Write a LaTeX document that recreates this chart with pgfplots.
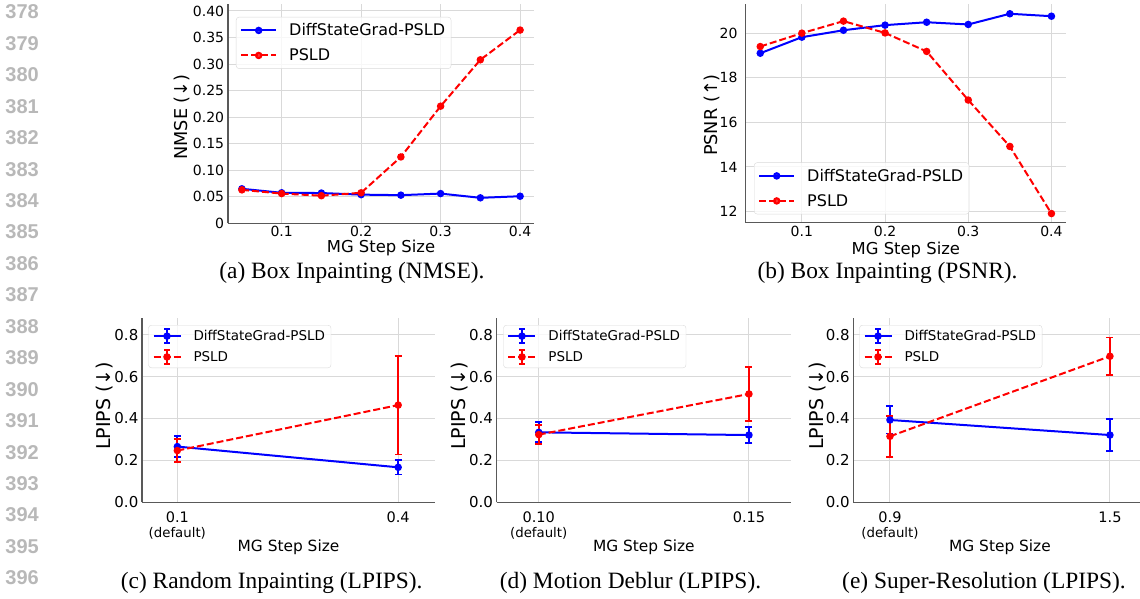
\documentclass[border=0pt]{standalone}
\usepackage{fontspec}
\setmainfont{DejaVu Sans}
\newfontfamily\capfont{Liberation Serif}
\newfontfamily\lnfont{Liberation Sans}
\usepackage{pgfplots}
\pgfplotsset{compat=1.18}
\usepackage{pgfplotstable}
\definecolor{lngray}{gray}{0.72}
\definecolor{spine}{gray}{0.35}
\definecolor{gridc}{gray}{0.85}

% Box inpainting data
\pgfplotstableread{
x y
0.05 0.065
0.10 0.0575
0.15 0.057
0.20 0.054
0.25 0.053
0.30 0.056
0.35 0.048
0.40 0.051
}\nmseours
\pgfplotstableread{
x y
0.05 0.063
0.10 0.056
0.15 0.052
0.20 0.0575
0.25 0.125
0.30 0.2206
0.35 0.308
0.40 0.364
}\nmsepsld
\pgfplotstableread{
x y
0.05 19.10
0.10 19.82
0.15 20.13
0.20 20.36
0.25 20.49
0.30 20.39
0.35 20.87
0.40 20.76
}\psnrours
\pgfplotstableread{
x y
0.05 19.40
0.10 20.00
0.15 20.54
0.20 20.01
0.25 19.18
0.30 17.00
0.35 14.92
0.40 11.91
}\psnrpsld
% LPIPS with error bars
\pgfplotstableread{
x y e
0.1 0.266 0.049
0.4 0.167 0.034
}\riours
\pgfplotstableread{
x y e
0.1 0.247 0.055
0.4 0.464 0.236
}\ripsld
\pgfplotstableread{
x y e
0.10 0.334 0.048
0.15 0.321 0.038
}\mdours
\pgfplotstableread{
x y e
0.10 0.323 0.046
0.15 0.517 0.129
}\mdpsld
\pgfplotstableread{
x y e
0.9 0.393 0.065
1.5 0.321 0.078
}\srours
\pgfplotstableread{
x y e
0.9 0.315 0.097
1.5 0.697 0.090
}\srpsld

\pgfplotsset{
  base/.style={
    scale only axis, anchor=south west,
    axis lines*=left, axis line style={spine, line width=1.3pt},
    grid=major, major grid style={gridc, line width=1pt},
    major tick length=0pt,
    /pgf/number format/assume math mode=true,
    legend cell align=left,
  },
  ours/.style={blue, line width=2pt, mark=*, mark size=2.7pt, mark options={solid}},
  psld/.style={red, line width=2pt, dash pattern=on 7pt off 3pt, mark=*, mark size=2.7pt, mark options={solid}},
  longleg/.style={legend image code/.code={%
      \draw[mark repeat=2,mark phase=2,##1] plot coordinates {(0pt,0pt) (17.5pt,0pt) (35pt,0pt)};}},
  ebleg/.style={legend image code/.code={%
      \draw[##1, mark=none] (0pt,0pt) -- (27pt,0pt);
      \draw[##1, solid, mark=none, line width=1.8pt] (13.5pt,-7pt) -- (13.5pt,7pt) (10.5pt,-7pt) -- (16.5pt,-7pt) (10.5pt,7pt) -- (16.5pt,7pt);
      \draw[##1, only marks] plot coordinates {(13.5pt,0pt)};}},
  toprow/.style={
    tick label style={font=\fontsize{14}{14}\selectfont},
    xlabel style={font=\fontsize{16.4}{17}\selectfont},
    ylabel style={font=\fontsize{17.7}{18}\selectfont},
    legend style={draw=black!15, rounded corners=3pt, fill=white, fill opacity=0.8, text opacity=1,
      font=\fontsize{16}{16}\selectfont, inner xsep=4pt, inner ysep=4.5pt, row sep=7.5pt,
      /tikz/every odd column/.append style={column sep=10pt}},
    xmin=0.0325, xmax=0.4175,
    xtick={0.1,0.2,0.3,0.4}, xticklabels={0.1,0.2,0.3,0.4},
    xticklabel style={inner sep=0pt, yshift=-3pt},
    xlabel={MG Step Size},
  },
  botrow/.style={
    width=293pt, height=184.4pt, ymin=0, ymax=0.88,
    ytick={0,0.2,0.4,0.6,0.8}, yticklabels={0.0,0.2,0.4,0.6,0.8},
    tick label style={font=\fontsize{15}{15}\selectfont},
    yticklabel style={inner sep=0pt, xshift=-3.5pt},
    xticklabel style={inner sep=0pt, yshift=-9pt, align=center, font=\fontsize{14.5}{15}\selectfont},
    xlabel style={font=\fontsize{15.4}{16}\selectfont, at={(axis description cs:0.5,-0.244)}, anchor=center},
    ylabel style={font=\fontsize{19}{19}\selectfont},
    xlabel={MG Step Size}, ylabel={LPIPS (↓)},
    legend style={draw=black!15, rounded corners=3pt, fill=white, fill opacity=0.8, text opacity=1,
      font=\fontsize{13.5}{13.5}\selectfont, inner xsep=4pt, inner ysep=3pt, row sep=5pt,
      /tikz/every odd column/.append style={column sep=10pt}},
  },
  eb/.style={error bars/.cd, y dir=both, y explicit,
    error bar style={line width=1.8pt, solid},
    error mark options={rotate=90, line width=1.8pt, mark size=3.5pt, solid}},
}

\begin{document}
\begin{tikzpicture}
\useasboundingbox (0pt,0pt) rectangle (1140pt,-598pt);

% line numbers
\foreach \i in {0,...,18}{
  \pgfmathtruncatemacro\n{378+\i}
  \node[anchor=east, text=lngray, inner sep=0pt, font=\lnfont\bfseries\fontsize{20}{20}\selectfont] at (39pt,{-12pt-31.44pt*\i}) {\n};
}

% (a)
\begin{axis}[base, toprow, longleg, at={(228pt,-223.3pt)}, width=306pt, height=219pt,
  ymin=0, ymax=0.4125,
  ytick={0,0.05,0.10,0.15,0.20,0.25,0.30,0.35,0.40},
  yticklabels={0,0.05,0.10,0.15,0.20,0.25,0.30,0.35,0.40},
  yticklabel style={inner sep=0pt, xshift=-3.7pt},
  ylabel={NMSE (↓)},
  ylabel style={at={(axis description cs:-0.1513,0.485)}, anchor=center},
  xlabel style={at={(axis description cs:0.5,-0.1128)}, anchor=center},
  legend style={at={(0.0261,0.9424)}, anchor=north west},
]
\addplot[ours] table[x=x,y=y] {\nmseours};
\addplot[psld] table[x=x,y=y] {\nmsepsld};
\legend{DiffStateGrad-PSLD, PSLD}
\end{axis}

% (b)
\begin{axis}[base, toprow, longleg, at={(745.7pt,-222.7pt)}, width=320.3pt, height=219.2pt,
  ymin=11.5, ymax=21.33,
  ytick={12,14,16,18,20}, yticklabels={12,14,16,18,20},
  yticklabel style={inner sep=0pt, xshift=-8pt},
  ylabel={PSNR (↑)},
  ylabel style={at={(axis description cs:-0.104,0.491)}, anchor=center},
  xlabel style={at={(axis description cs:0.5,-0.1245)}, anchor=center},
  legend style={at={(0.0259,0.0383)}, anchor=south west},
]
\addplot[ours] table[x=x,y=y] {\psnrours};
\addplot[psld] table[x=x,y=y] {\psnrpsld};
\legend{DiffStateGrad-PSLD, PSLD}
\end{axis}

% (c)
\begin{axis}[base, botrow, ebleg, at={(142pt,-502.3pt)},
  xmin=0.052, xmax=0.45,
  xtick={0.1,0.4}, xticklabels={{0.1\\{\fontsize{13.3}{15}\selectfont (default)}},0.4},
  ylabel style={at={(axis description cs:-0.1263,0.523)}, anchor=center},
  legend style={at={(0.0215,0.9615)}, anchor=north west},
]
\addplot[ours, eb] table[x=x,y=y,y error=e] {\riours};
\addplot[psld, eb] table[x=x,y=y,y error=e] {\ripsld};
\legend{DiffStateGrad-PSLD, PSLD}
\end{axis}

% (d)
\begin{axis}[base, botrow, ebleg, at={(496.7pt,-502.3pt)}, width=294.3pt,
  xmin=0.09, xmax=0.16,
  xtick={0.10,0.15}, xticklabels={{0.10\\{\fontsize{13.3}{15}\selectfont (default)}},0.15},
  ylabel style={at={(axis description cs:-0.1247,0.523)}, anchor=center},
  legend style={at={(0.0224,0.9615)}, anchor=north west},
]
\addplot[ours, eb] table[x=x,y=y,y error=e] {\mdours};
\addplot[psld, eb] table[x=x,y=y,y error=e] {\mdpsld};
\legend{DiffStateGrad-PSLD, PSLD}
\end{axis}

% (e)
\begin{axis}[base, botrow, ebleg, at={(853.3pt,-502.3pt)}, width=293.3pt,
  xmin=0.8, xmax=1.6,
  xtick={0.9,1.5}, xticklabels={{0.9\\{\fontsize{13.3}{15}\selectfont (default)}},1.5},
  ylabel style={at={(axis description cs:-0.1227,0.523)}, anchor=center},
  legend style={at={(0.0205,0.9615)}, anchor=north west},
]
\addplot[ours, eb] table[x=x,y=y,y error=e] {\srours};
\addplot[psld, eb] table[x=x,y=y,y error=e] {\srpsld};
\legend{DiffStateGrad-PSLD, PSLD}
\end{axis}

% captions
\begin{scope}[every node/.style={font=\capfont\fontsize{23.4}{26}\selectfont, inner sep=0pt}]
\node at (352pt,-273pt) {(a) Box Inpainting (NMSE).};
\node at (887.5pt,-273pt) {(b) Box Inpainting (PSNR).};
\node at (271.7pt,-582.7pt) {(c) Random Inpainting (LPIPS).};
\node at (630.5pt,-582.7pt) {(d) Motion Deblur (LPIPS).};
\node at (984pt,-582.7pt) {(e) Super-Resolution (LPIPS).};
\end{scope}
\end{tikzpicture}
\end{document}
